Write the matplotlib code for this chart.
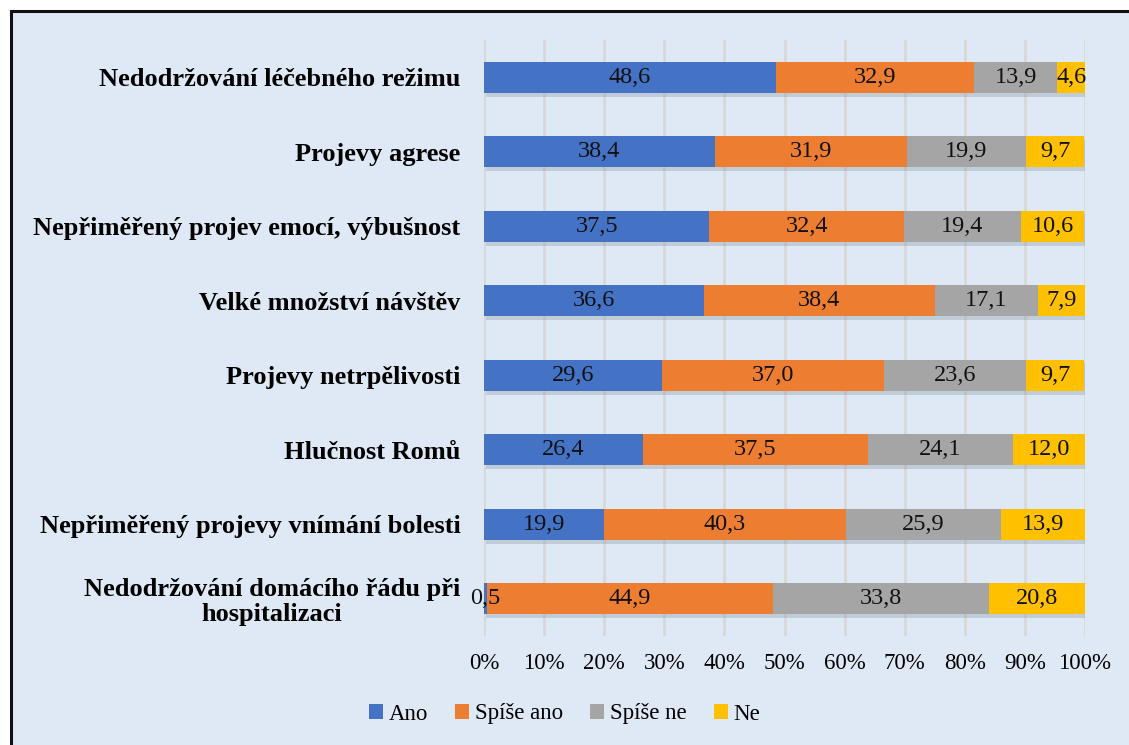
import matplotlib.pyplot as plt
from matplotlib.patches import Rectangle
import numpy as np

categories = [
    "Nedodržování léčebného režimu",
    "Projevy agrese",
    "Nepřiměřený projev emocí, výbušnost",
    "Velké množství návštěv",
    "Projevy netrpělivosti",
    "Hlučnost Romů",
    "Nepřiměřený projevy vnímání bolesti",
    "Nedodržování domácího řádu při\nhospitalizaci",
]
# values printed on the bars
ano = [48.6, 38.4, 37.5, 36.6, 29.6, 26.4, 19.9, 0.5]
spise_ano = [32.9, 31.9, 32.4, 38.4, 37.0, 37.5, 40.3, 44.9]
spise_ne = [13.9, 19.9, 19.4, 17.1, 23.6, 24.1, 25.9, 33.8]
ne = [4.6, 9.7, 10.6, 7.9, 9.7, 12.0, 13.9, 20.8]
# the last bar is drawn with lengths that differ from its labels (as in the source)
last_row_drawn = [0.5, 47.6, 35.9, 16.0]
series_names = ["Ano", "Spíše ano", "Spíše ne", "Ne"]
colors = ["#4472c4", "#ed7d31", "#a5a5a5", "#ffc000"]

plt.rcParams['font.family'] = ['Liberation Serif', 'DejaVu Serif']
bg = "#dee9f5"

fig = plt.figure(figsize=(11.29, 7.45), dpi=100, facecolor="white")
fig.patches.append(Rectangle((10.5 / 1129, -0.01), 1.02, 1 - 10.5 / 745 + 0.01,
                             transform=fig.transFigure, facecolor=bg,
                             edgecolor="#111111", linewidth=2.2, zorder=-5))
ax = fig.add_axes([484 / 1129, 1 - 636 / 745, 601 / 1129, 596 / 745])
ax.set_facecolor("none")

y = np.arange(len(categories))
left = np.zeros(len(categories))
data = [ano, spise_ano, spise_ne, ne]
for k, (vals, name, col) in enumerate(zip(data, series_names, colors)):
    vals = np.array(vals)
    widths = vals.copy()
    widths[-1] = last_row_drawn[k]
    # soft shadow under bars
    ax.barh(y + 0.05, widths, left=left + 0.4, height=0.42, color="#7f8a99",
            alpha=0.3, zorder=1, linewidth=0)
    ax.barh(y, widths, left=left, height=0.42, color=col, label=name,
            zorder=2, linewidth=0)
    for v, w, l, yy in zip(vals, widths, left, y):
        txt = f"{v:.1f}".replace(".", ",")
        ax.text(l + w / 2, yy, txt, ha="center", va="center",
                fontsize=17.5, color="#111111", zorder=3)
    left = left + widths

ax.set_xlim(0, 100)
ax.set_ylim(len(categories) - 0.5, -0.5)
ax.set_xticks(np.arange(0, 101, 10))
ax.set_xticklabels([f"{t}%" for t in range(0, 101, 10)], fontsize=16.5)
ax.set_yticks(y)
ax.set_yticklabels(categories, fontsize=19, fontweight="bold",
                   multialignment="center", linespacing=1.1)
ax.tick_params(axis="both", length=0)
ax.tick_params(axis="x", pad=12)
ax.tick_params(axis="y", pad=17)
ax.grid(axis="x", color="#d8d6d4", linewidth=1.8, zorder=0)
ax.set_axisbelow(True)
for s in ax.spines.values():
    s.set_visible(False)

leg = fig.legend(loc="center", bbox_to_anchor=(0.5, 1 - 714 / 745), ncol=4,
                 frameon=False, fontsize=16.5, handlelength=0.6, handleheight=0.6,
                 handletextpad=0.25, columnspacing=1.2)

fig.savefig("out.png", dpi=100, facecolor="white")
